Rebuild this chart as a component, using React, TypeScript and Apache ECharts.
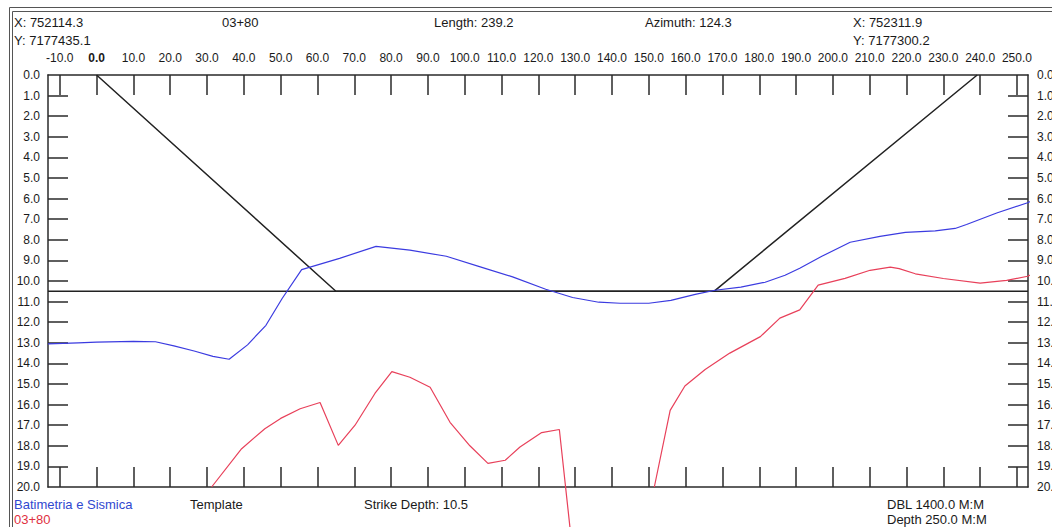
import React, { useEffect, useRef } from "react";
import * as echarts from "echarts";

const xTickValues = [-10, 0, 10, 20, 30, 40, 50, 60, 70, 80, 90, 100, 110, 120, 130, 140, 150, 160, 170, 180, 190, 200, 210, 220, 230, 240, 250];
const yLabelValues = [0, 1, 2, 3, 4, 5, 6, 7, 8, 9, 10, 11, 12, 13, 14, 15, 16, 17, 18, 19, 20];
const yTickValues = [1, 2, 3, 4, 5, 6, 7, 8, 9, 10, 11, 12, 13, 14, 15, 16, 17, 18, 19];

const templateLine: [number, number][] = [[0, 0], [65, 10.5], [167.7, 10.5], [239.2, 0]];
const strikeDepth = 10.5;
const xMin = -13.2;
const xMax = 253;

const bathymetry: [number, number][] = [
  [-13.2, 13.05], [-5, 13.0], [0, 12.97], [10, 12.93], [16, 12.95], [21, 13.15], [26.5, 13.4],
  [31.6, 13.66], [36, 13.8], [41, 13.1], [46, 12.15], [50.4, 10.85], [55.7, 9.45], [66, 8.9],
  [75.9, 8.32], [85.1, 8.5], [95, 8.8], [104, 9.3], [113, 9.8], [122, 10.4], [129.3, 10.8],
  [136.4, 11.03], [142.2, 11.08], [150, 11.08], [156, 10.94], [162.6, 10.65], [168, 10.45],
  [175, 10.3], [181.6, 10.06], [187, 9.72], [191, 9.38], [197, 8.8], [204.7, 8.12], [212.8, 7.83],
  [219.7, 7.64], [227.8, 7.57], [233.2, 7.45], [236.3, 7.26], [244.5, 6.7], [252.9, 6.2], [255.8, 5.98],
];

const seismic: ([number, number] | null)[] = [
  [31.25, 20.0], [39.4, 18.14], [45.7, 17.17], [50, 16.67], [55.3, 16.2], [60.7, 15.9],
  [65.65, 17.98], [70.2, 17.0], [75.6, 15.46], [80.2, 14.4], [85.1, 14.67], [90.6, 15.16],
  [96, 16.86], [101.4, 18.0], [106.3, 18.85], [111, 18.7], [115, 18.06], [120.9, 17.36],
  [125.7, 17.21], [130, 24.3],
  null,
  [151.5, 20.0], [155.8, 16.28], [159.8, 15.1], [165.3, 14.3], [172, 13.5], [180.3, 12.7],
  [185.6, 11.8], [191, 11.4], [196, 10.2], [203.3, 9.87], [210.1, 9.48], [215.6, 9.33],
  [218, 9.4], [222.4, 9.65], [230, 9.88], [240, 10.1], [247.2, 9.97], [252.9, 9.77], [255.8, 9.51],
];

const FONT = "'Liberation Sans', Arial, sans-serif";

if (typeof document !== "undefined") document.body.style.margin = "0";

export default function App() {
  const ref = useRef<HTMLDivElement>(null);
  useEffect(() => {
    document.body.style.margin = "0";
    const chart = echarts.init(ref.current!, null, { renderer: "svg" });
    const axisColor = "#2a2a2a";
    const lbl = { color: "#1a1a1a", fontSize: 12, fontFamily: FONT };
    const txt = (x: number, y: number, text: string, fill = "#1a1a1a") => ({
      type: "text",
      x,
      y,
      silent: true,
      style: { text, fill, fontSize: 13, fontFamily: FONT, verticalAlign: "middle", align: "left" },
    });
    const yAxisBase = (pos: "left" | "right", margin: number) => ({
      type: "value",
      position: pos,
      inverse: true,
      min: 0,
      max: 20,
      axisLine: { show: true, onZero: false, lineStyle: { color: axisColor, width: 1.5 } },
      axisTick: { show: true, inside: true, length: 20, customValues: yTickValues, lineStyle: { color: axisColor, width: 1.5 } },
      axisLabel: {
        show: true,
        ...lbl,
        margin,
        customValues: yLabelValues,
        formatter: (v: number) => v.toFixed(1),
      },
      splitLine: { show: false },
    });
    chart.setOption({
      animation: false,
      backgroundColor: "#ffffff",
      grid: { left: 48, top: 75, width: 980, height: 412, containLabel: false, outerBoundsMode: "none" },
      xAxis: [
        {
          type: "value",
          position: "top",
          min: xMin,
          max: xMax,
          axisLine: { show: true, onZero: false, lineStyle: { color: axisColor, width: 1.5 } },
          axisTick: { show: true, inside: true, length: 20, customValues: xTickValues, lineStyle: { color: axisColor, width: 1.5 } },
          axisLabel: {
            show: true,
            ...lbl,
            margin: 11,
            hideOverlap: false,
            customValues: xTickValues,
            formatter: (v: number) => (v === 0 ? "{b|0.0}" : v.toFixed(1)),
            rich: { b: { fontWeight: "bold", fontSize: 12, fontFamily: FONT, color: "#1a1a1a" } },
          },
          splitLine: { show: false },
        },
        {
          type: "value",
          position: "bottom",
          min: xMin,
          max: xMax,
          axisLine: { show: true, onZero: false, lineStyle: { color: axisColor, width: 1.5 } },
          axisTick: { show: true, inside: true, length: 20, customValues: xTickValues, lineStyle: { color: axisColor, width: 1.5 } },
          axisLabel: { show: false },
          splitLine: { show: false },
        },
      ],
      yAxis: [yAxisBase("left", 8), yAxisBase("right", 9)],
      series: [
        {
          name: "Strike",
          type: "line",
          data: [[xMin, strikeDepth], [xMax, strikeDepth]],
          showSymbol: false,
          lineStyle: { color: "#222", width: 1.5 },
          silent: true,
        },
        {
          name: "Template",
          type: "line",
          data: templateLine,
          showSymbol: false,
          lineStyle: { color: "#222", width: 1.5 },
          silent: true,
        },
        {
          name: "Batimetria",
          type: "line",
          data: bathymetry,
          showSymbol: false,
          clip: false,
          lineStyle: { color: "#3b3be0", width: 1.2 },
          silent: true,
        },
        {
          name: "Sismica",
          type: "line",
          data: seismic,
          connectNulls: false,
          showSymbol: false,
          clip: false,
          lineStyle: { color: "#e8405a", width: 1.2 },
          silent: true,
        },
      ],
      graphic: [
        { type: "rect", silent: true, shape: { x: 9.5, y: 7.5, width: 1100, height: 600 }, style: { fill: "none", stroke: "#555", lineWidth: 1 } },
        { type: "rect", silent: true, shape: { x: 12.5, y: 11.5, width: 1100, height: 600 }, style: { fill: "none", stroke: "#555", lineWidth: 1 } },
        txt(14, 22, "X: 752114.3"),
        txt(14, 40, "Y: 7177435.1"),
        txt(222, 22, "03+80"),
        txt(434, 22, "Length: 239.2"),
        txt(645, 22, "Azimuth: 124.3"),
        txt(853, 22, "X: 752311.9"),
        txt(853, 40, "Y: 7177300.2"),
        txt(14, 504, "Batimetria e Sismica", "#3048d0"),
        txt(14, 519, "03+80", "#e0303f"),
        txt(190, 504, "Template"),
        txt(364, 504, "Strike Depth: 10.5"),
        txt(887, 504, "DBL 1400.0 M:M"),
        txt(887, 519, "Depth 250.0 M:M"),
      ],
    });
    return () => chart.dispose();
  }, []);
  return <div ref={ref} style={{ position: "fixed", left: 0, top: 0, width: 1052, height: 527 }} />;
}
